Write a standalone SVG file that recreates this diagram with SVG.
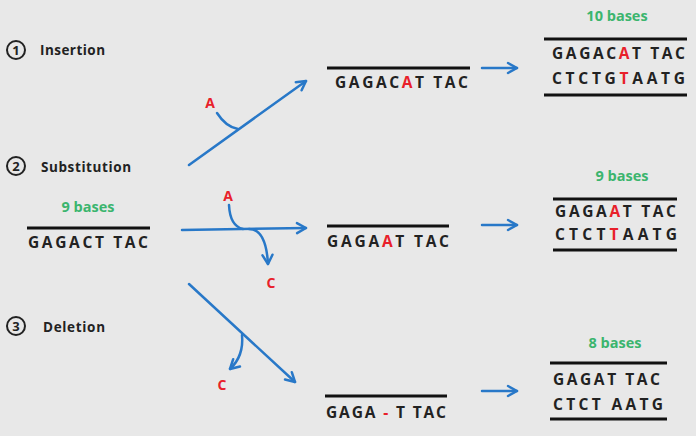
<svg xmlns="http://www.w3.org/2000/svg" width="696" height="436" viewBox="0 0 696 436">
<defs>
<style>
.bg{fill:#e8e8e8}
.lbl{font-family:"Open Sans","Liberation Sans",sans-serif;font-weight:bold;font-size:13.5px;fill:#222}
.seq{font-family:"Open Sans","Liberation Sans",sans-serif;font-weight:bold;font-size:15.5px;fill:#222}
.grn{font-family:"Open Sans","Liberation Sans",sans-serif;font-weight:bold;font-size:14.5px;fill:#3bb56e;text-anchor:middle}
.red{fill:#e8202a}
.rl{font-family:"Open Sans","Liberation Sans",sans-serif;font-weight:bold;font-size:14px;fill:#e8202a;text-anchor:middle}
.num{font-family:"Open Sans","Liberation Sans",sans-serif;font-weight:bold;font-size:13px;fill:#222;text-anchor:middle}
.circ{fill:none;stroke:#222;stroke-width:2}
.bar{stroke:#111;stroke-width:3}
.arr{fill:none;stroke:#2878c8;stroke-width:2.5;stroke-linecap:round}
</style>
<marker id="ah" viewBox="-12 -8 14 16" refX="0" refY="0" markerWidth="14" markerHeight="16" markerUnits="userSpaceOnUse" orient="auto">
<path d="M-9,-5 L0,0 L-9,5" fill="none" stroke="#2878c8" stroke-width="2.5" stroke-linecap="round" stroke-linejoin="round"/>
</marker>
</defs>
<rect class="bg" x="0" y="0" width="696" height="436"/>

<g id="label-insertion">
<circle class="circ" cx="16" cy="50" r="9"/>
<text class="num" x="16" y="54.5">1</text>
<text class="lbl" x="40" y="55" textLength="65">Insertion</text>
</g>
<g id="label-substitution">
<circle class="circ" cx="16" cy="166" r="9"/>
<text class="num" x="16" y="170.5">2</text>
<text class="lbl" x="41" y="172" textLength="90">Substitution</text>
</g>
<g id="label-deletion">
<circle class="circ" cx="16" cy="326" r="9"/>
<text class="num" x="16" y="330.5">3</text>
<text class="lbl" x="43" y="332" textLength="62">Deletion</text>
</g>

<g id="original">
<text class="grn" x="88" y="212">9 bases</text>
<line class="bar" x1="27" y1="228" x2="150" y2="228"/>
<text class="seq" x="28" y="248" textLength="120">GAGACT TAC</text>
</g>

<g id="mid-insertion">
<line class="bar" x1="327" y1="68" x2="470" y2="68"/>
<text class="seq" x="335" y="88" textLength="133">GAGAC<tspan class="red">A</tspan>T TAC</text>
</g>
<g id="mid-substitution">
<line class="bar" x1="327" y1="226" x2="449" y2="226"/>
<text class="seq" x="327" y="247" textLength="122">GAGA<tspan class="red">A</tspan>T TAC</text>
</g>
<g id="mid-deletion">
<line class="bar" x1="325" y1="396" x2="447" y2="396"/>
<text class="seq" x="326" y="418" textLength="120">GAGA <tspan class="red">-</tspan> T TAC</text>
</g>

<g id="right-insertion">
<text class="grn" x="617" y="21">10 bases</text>
<line class="bar" x1="544" y1="39" x2="687" y2="39"/>
<text class="seq" x="552" y="59" textLength="133">GAGAC<tspan class="red">A</tspan>T TAC</text>
<text class="seq" x="552" y="84" textLength="133">CTCTG<tspan class="red">T</tspan>AATG</text>
<line class="bar" x1="544" y1="95" x2="687" y2="95"/>
</g>
<g id="right-substitution">
<text class="grn" x="622" y="181">9 bases</text>
<line class="bar" x1="553" y1="199" x2="677" y2="199"/>
<text class="seq" x="555" y="217" textLength="121">GAGA<tspan class="red">A</tspan>T TAC</text>
<text class="seq" x="555" y="240" textLength="122">CTCT<tspan class="red">T</tspan>AATG</text>
<line class="bar" x1="553" y1="250" x2="677" y2="250"/>
</g>
<g id="right-deletion">
<text class="grn" x="615" y="348">8 bases</text>
<line class="bar" x1="550" y1="363" x2="667" y2="363"/>
<text class="seq" x="553" y="385" textLength="107">GAGAT TAC</text>
<text class="seq" x="553" y="410" textLength="110">CTCT AATG</text>
<line class="bar" x1="550" y1="419" x2="667" y2="419"/>
</g>

<g id="mutation-labels">
<text class="rl" x="210" y="108">A</text>
<text class="rl" x="228" y="201">A</text>
<text class="rl" x="271" y="288">C</text>
<text class="rl" x="222" y="390">C</text>
</g>

<g id="connectors">
<path class="arr" d="M189,165 L306,81" marker-end="url(#ah)"/>
<path class="arr" d="M217,113 Q226,127 238,129"/>
<path class="arr" d="M182,230 L306,228" marker-end="url(#ah)"/>
<path class="arr" d="M229,205 Q230,226 243,229"/>
<path class="arr" d="M249,229 Q266,229 268,264" marker-end="url(#ah)"/>
<path class="arr" d="M189,284 L295,382" marker-end="url(#ah)"/>
<path class="arr" d="M242,335 Q244,356 230,369" marker-end="url(#ah)"/>
<path class="arr" d="M482,68 L517,68" marker-end="url(#ah)"/>
<path class="arr" d="M482,225 L517,225" marker-end="url(#ah)"/>
<path class="arr" d="M482,391 L517,391" marker-end="url(#ah)"/>
</g>
</svg>
